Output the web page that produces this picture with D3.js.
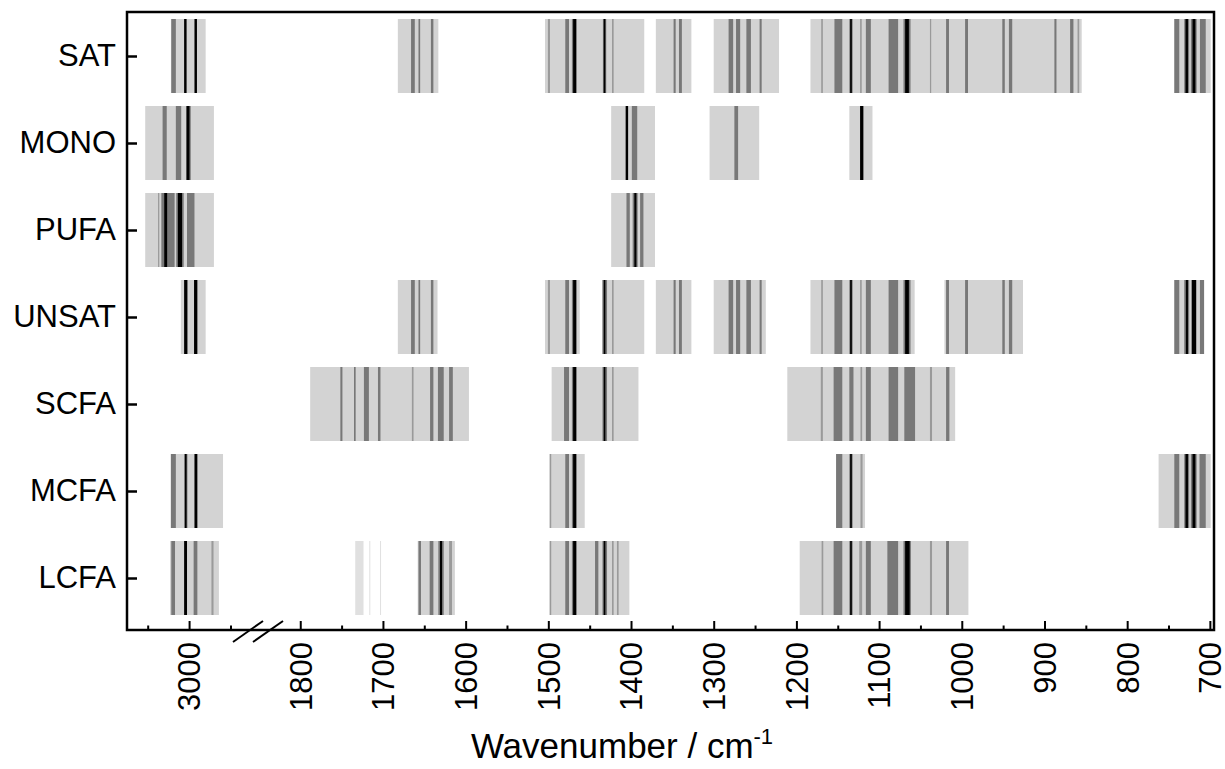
<!DOCTYPE html>
<html>
<head>
<meta charset="utf-8">
<script src="https://d3js.org/d3.v7.min.js"></script>
<style>
  body { margin: 0; background: #fff; }
  svg text { font-family: "Liberation Sans", Arial, sans-serif; fill: #000; }
</style>
</head>
<body>
<svg id="chart" width="1225" height="769"></svg>
<script>
// fatty acid groups, top to bottom
const categories = ["SAT", "MONO", "PUFA", "UNSAT", "SCFA", "MCFA", "LCFA"];

// light grey spectral windows [from, to] in cm-1
const regions = {
  SAT:   [[3022,2980],[1682,1633],[1504,1384],[1370,1327],[1300,1221],[1183,855],[743,699]],
  MONO:  [[3053,2970],[1424,1371],[1305,1245],[1136,1108]],
  PUFA:  [[3053,2970],[1424,1371]],
  UNSAT: [[3010,2980],[1682,1634],[1504,1462],[1435,1384],[1370,1327],[1300,1237],[1183,1057],[1021,926],[743,707]],
  SCFA:  [[1788,1596],[1496,1391],[1211,1008]],
  MCFA:  [[3022,2959],[1499,1456],[1152,1117],[762,699]],
  LCFA:  [[3023,2964],[1658,1613],[1499,1402],[1196,992]]
};

// faint windows (LCFA only)
const faintBands = {
  LCFA: [[1733.5,1723.5],[1716.5,1715.5],[1703.5,1702.5]]
};

// thin, lighter grey lines
const thinLines = {
  SAT:   [[1500.5,1498],[1423,1421],[1170,1168],[1123,1121],[1038.5,1037],[860,858]],
  MONO:  [],
  PUFA:  [[3037.5,3036]],
  UNSAT: [[1500.5,1498],[1423,1421],[1170,1168],[1123,1121]],
  SCFA:  [[1665,1663],[1423,1421],[1170.5,1168],[1122.5,1120.5],[1038.5,1036]],
  MCFA:  [[1498,1496.5],[1122.5,1120]],
  LCFA:  [[2973,2970.5],[1620,1616.5],[1498,1496.5],[1423,1421],[1417,1415],[1169.5,1167.5],[1124,1120.5],[1038.5,1036]]
};

// mid grey bands
const midBands = {
  SAT:   [[3021.5,3016],[1666,1661.5],[1657,1655],[1642,1639],[1479.5,1475],[1471.5,1465.5],[1434,1430],
          [1348.5,1346],[1342,1338.5],[1282,1276.5],[1273,1268],[1260.5,1255],[1244.5,1242],
          [1154,1144.5],[1136,1132],[1116,1110],[1088.5,1077],[1070.5,1062],[1019,1015.5],[996,992.5],
          [951,948],[943,939],[888,885.5],[869,865],[743,737],[731,725],[723,716],[712,705]],
  MONO:  [[3032,3027],[3016,3009.5],[3003.5,2998],[1399,1392.5],[1275,1270.5]],
  PUFA:  [[3033.5,3017.5],[3015.5,3006.5],[3002.5,2993.5],[1405.5,1401.5],[1398,1392],[1389,1385]],
  UNSAT: [[1666,1661.5],[1657,1655],[1642,1639],[1479.5,1475],[1471.5,1465.5],[1434.5,1429],
          [1348.5,1346],[1342,1338.5],[1282,1276.5],[1273,1268],[1260.5,1255],[1244.5,1242],
          [1154,1144.5],[1136,1132],[1116,1110],[1088.5,1077],[1070.5,1062],[1019,1015.5],[996,992.5],
          [951,948],[943,939],[743,737],[731,725],[712,707]],
  SCFA:  [[1751.5,1749],[1735,1733],[1723,1717],[1706,1703],[1643,1639],[1633.5,1626.5],[1620,1615.5],
          [1481,1475],[1471.5,1465.5],[1434.5,1429],[1155,1144.5],[1136,1131],[1116,1110],
          [1088.5,1077],[1069.5,1056.5],[1019,1015]],
  MCFA:  [[3022,3016],[3006,3002],[1479.5,1475],[1471.5,1465.5],[1152,1144.5],[1136,1132],
          [743,737],[731,725],[723,716],[712.5,705]],
  LCFA:  [[3021.5,3017],[2994.5,2990],[1657,1654],[1643.5,1639],[1633,1626.5],[1479.5,1475],
          [1471.5,1465.5],[1443.5,1439.5],[1434.5,1429],[1155,1144.5],[1136,1132],[1116,1110],
          [1090,1077],[1070.5,1061.5],[1019,1015.5]]
};

// black bands
const darkBands = {
  SAT:   [[3006,3003],[2993.5,2990.5],[1470,1466.5],[1433,1431],[1135,1133],[1068.5,1064],[729.5,726.5],[721,717.5]],
  MONO:  [[3003,2999.5],[1406.5,1403.5],[1123,1119]],
  PUFA:  [[3030,3026.5],[3013.5,3008.5],[1396,1393.5]],
  UNSAT: [[3006,3002],[2994,2990],[1470,1466.5],[1433,1431],[1135,1133],[1068.5,1064],[729,726.5],[722,716.5]],
  SCFA:  [[1470,1466.5],[1433,1431]],
  MCFA:  [[3005,3003],[2993.5,2990],[1470,1466.5],[1135,1133],[729.5,726.5],[721,717.5]],
  LCFA:  [[3006,3002.5],[1631,1628.5],[1470,1466.5],[1433,1431],[1135,1133],[1068.5,1063]]
};

// axis ticks
const leftMajor = [3000];
const leftMinor = [3050, 2950];
const rightMajor = [1800, 1700, 1600, 1500, 1400, 1300, 1200, 1100, 1000, 900, 800, 700];
const rightMinor = [1750, 1650, 1550, 1450, 1350, 1250, 1150, 1050, 950, 850, 750];

var svg = d3.select("#chart");
var plotL = 127, plotR = 1214, plotT = 12, plotB = 630;

// broken x axis: two linear pieces
var xL = d3.scaleLinear().domain([3075, 2924]).range([plotL, 252]);
var xR = d3.scaleLinear().domain([1839, 695]).range([268, plotR]);
function xs(w) { return w > 2000 ? xL(w) : xR(w); }

var y = d3.scalePoint().domain(categories).range([56, 578]);
var barH = 74;

function drawSet(set, color) {
  categories.forEach(function(c) {
    var list = set[c] || [];
    svg.append("g").selectAll("rect")
      .data(list)
      .enter()
      .append("rect")
      .attr("x", function(d) { return xs(d[0]); })
      .attr("width", function(d) { return Math.max(xs(d[1]) - xs(d[0]), 1); })
      .attr("y", y(c) - barH / 2)
      .attr("height", barH)
      .attr("fill", color);
  });
}

drawSet(regions, "#d3d3d3");
drawSet(faintBands, "#e0e0e0");
drawSet(thinLines, "#9a9a9a");
drawSet(midBands, "#787878");
drawSet(darkBands, "#000");

// frame
svg.append("rect")
  .attr("x", plotL).attr("y", plotT)
  .attr("width", plotR - plotL).attr("height", plotB - plotT)
  .attr("fill", "none").attr("stroke", "#000").attr("stroke-width", 2.5);

// x axes (ticks point inward)
function xAxis(scale, major, minor) {
  var g = svg.append("g").attr("transform", "translate(0," + plotB + ")");
  g.call(d3.axisBottom(scale).tickValues(major).tickSize(-9).tickFormat(d3.format("d")));
  g.append("g").call(d3.axisBottom(scale).tickValues(minor).tickSize(-4.5).tickFormat(""))
    .select(".domain").remove();
  g.select(".domain").remove();
  g.selectAll("line").attr("stroke-width", 2);
  g.selectAll("text")
    .attr("transform", "rotate(-90)")
    .attr("x", -12).attr("y", 0).attr("dy", "0.35em")
    .style("text-anchor", "end")
    .style("font-size", "31px");
}
xAxis(xL, leftMajor, leftMinor);
xAxis(xR, rightMajor, rightMinor);

// axis break marks
[0, 20].forEach(function(off) {
  svg.append("line")
    .attr("x1", 233 + off).attr("y1", plotB + 12)
    .attr("x2", 263 + off).attr("y2", plotB - 9)
    .attr("stroke", "#000").attr("stroke-width", 2);
});

// y axis
var gy = svg.append("g").attr("transform", "translate(" + plotL + ",0)")
  .call(d3.axisLeft(y).tickSize(-10).tickPadding(11));
gy.select(".domain").remove();
gy.selectAll("line").attr("stroke-width", 2.5);
gy.selectAll("text").style("font-size", "31px");

// x title
var title = svg.append("text")
  .attr("x", 622).attr("y", 758)
  .attr("text-anchor", "middle")
  .style("font-size", "35px");
title.append("tspan").text("Wavenumber / cm");
title.append("tspan").attr("dy", -14).style("font-size", "22px").text("-1");
</script>
</body>
</html>
